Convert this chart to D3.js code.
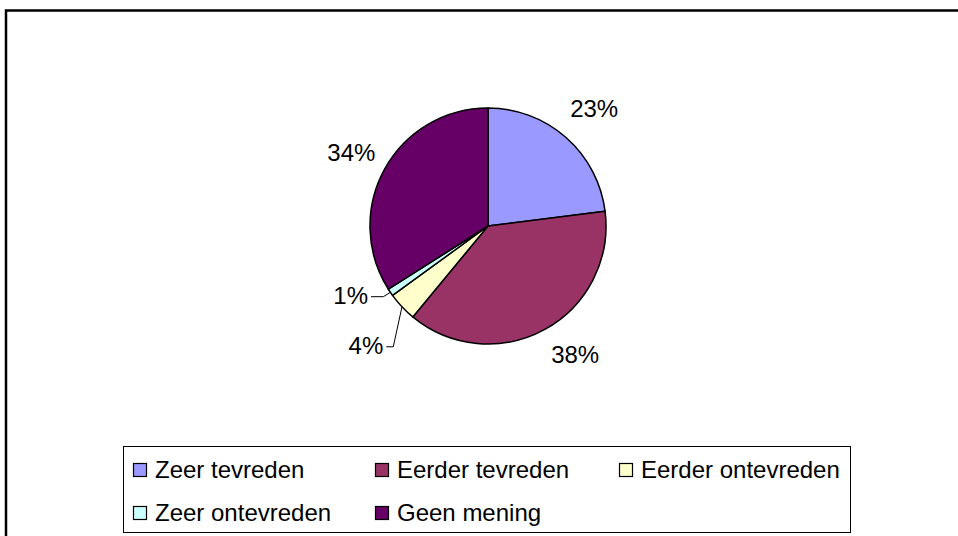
<!DOCTYPE html>
<html>
<head>
<meta charset="utf-8">
<script src="https://cdn.jsdelivr.net/npm/d3@7"></script>
<style>
  html, body { margin: 0; padding: 0; background: #fff; }
  svg { display: block; }
  text { font-family: "Liberation Sans", Arial, sans-serif; fill: #000; }
</style>
</head>
<body>
<svg id="chart" width="958" height="536"></svg>
<script>
// ---- data ----
const categories = ["Zeer tevreden", "Eerder tevreden", "Eerder ontevreden", "Zeer ontevreden", "Geen mening"];
const values = [23, 38, 4, 1, 34];
const colors = ["#9999FF", "#993366", "#FFFFCC", "#CCFFFF", "#660066"];

const svg = d3.select("#chart");

// outer frame (extends past right and bottom edge)
svg.append("rect")
  .attr("x", 6).attr("y", 10.5)
  .attr("width", 1000).attr("height", 600)
  .attr("fill", "none").attr("stroke", "#000").attr("stroke-width", 2.5);

const cx = 488, cy = 226, R = 118;
const g = svg.append("g").attr("transform", `translate(${cx},${cy})`);

const data = categories.map((c, i) => ({ cat: c, value: values[i], color: colors[i] }));
const pie = d3.pie().value(d => d.value).sort(null);
const arcs = pie(data);
const arc = d3.arc().innerRadius(0).outerRadius(R);

g.selectAll("path.slice").data(arcs).enter().append("path")
  .attr("class", "slice")
  .attr("d", arc)
  .attr("fill", d => d.data.color)
  .attr("stroke", "#000")
  .attr("stroke-width", 1.5)
  .attr("stroke-linejoin", "round");

const total = d3.sum(values);
const fmt = v => Math.round(v / total * 100) + "%";
const labelArc = d3.arc().innerRadius(R + 38).outerRadius(R + 38);
const edgeArc = d3.arc().innerRadius(R).outerRadius(R);

// label placement tweaks (layout only)
const nudge = { "Zeer tevreden": { dx: 3, dy: 0 }, "Eerder tevreden": { dx: 12, dy: -8 }, "Geen mening": { dx: 0, dy: 2 } };
// small slices get labels moved aside with leader lines
const moved = { "Eerder ontevreden": { dx: -7, dy: 13 }, "Zeer ontevreden": { dx: -7, dy: -18 } };

arcs.forEach(a => {
  const name = a.data.cat;
  if (!moved[name]) {
    const [x, y] = labelArc.centroid(a);
    const n = nudge[name] || { dx: 0, dy: 0 };
    g.append("text")
      .attr("x", x + n.dx).attr("y", y + n.dy)
      .attr("text-anchor", "middle")
      .attr("dy", "0.35em")
      .attr("font-size", 24)
      .text(fmt(a.data.value));
  } else {
    const [ex, ey] = edgeArc.centroid(a);
    const [lx0, ly0] = labelArc.centroid(a);
    const tx = lx0 + moved[name].dx + 16; // right end of text
    const ty = ly0 + moved[name].dy;
    g.append("text")
      .attr("x", tx).attr("y", ty)
      .attr("text-anchor", "end")
      .attr("dy", "0.35em")
      .attr("font-size", 24)
      .text(fmt(a.data.value));
    const kx = name === "Eerder ontevreden" ? tx + 10 : ex - 7;
    g.append("path")
      .attr("d", d3.line()([[tx + 3, ty + 1], [kx, ty + 1], [ex, ey]]))
      .attr("fill", "none").attr("stroke", "#000").attr("stroke-width", 1);
  }
});

// legend
svg.append("rect")
  .attr("x", 123.5).attr("y", 446.5)
  .attr("width", 727).attr("height", 86)
  .attr("fill", "#fff").attr("stroke", "#000").attr("stroke-width", 1);

const colX = [133, 375, 619];
const rowY = [470, 513];
const items = svg.selectAll("g.leg").data(data).enter().append("g")
  .attr("class", "leg")
  .attr("transform", (d, i) => `translate(${colX[i % 3]},${rowY[Math.floor(i / 3)]})`);
items.append("rect")
  .attr("x", 0.5).attr("y", -6.5).attr("width", 13).attr("height", 13)
  .attr("fill", d => d.color).attr("stroke", "#000").attr("stroke-width", 1.2);
items.append("text")
  .attr("x", 22).attr("y", 0).attr("dy", "0.35em")
  .attr("font-size", 24)
  .text(d => d.cat);
</script>
</body>
</html>
